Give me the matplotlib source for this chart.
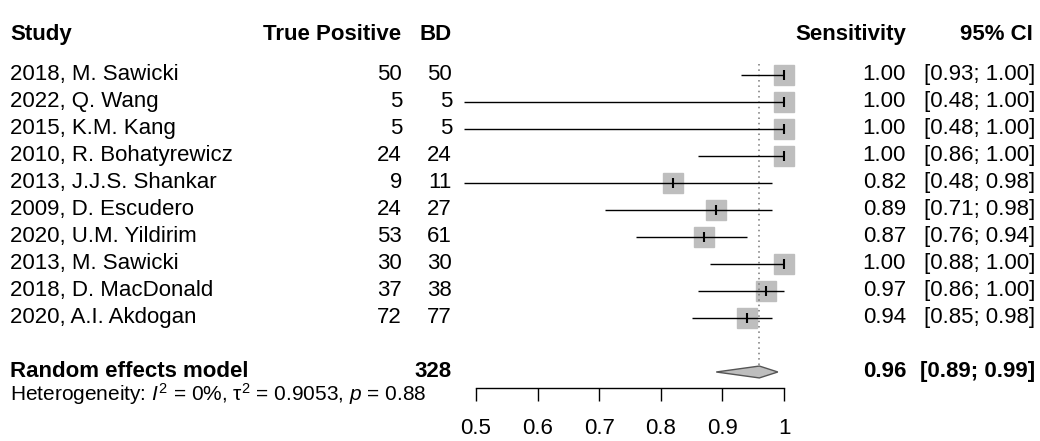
import matplotlib
matplotlib.use("Agg")
import matplotlib.pyplot as plt
import matplotlib.transforms as mtransforms
import numpy as np

plt.rcParams['font.family'] = ['Liberation Sans', 'DejaVu Sans']
plt.rcParams['mathtext.fontset'] = 'custom'
plt.rcParams['mathtext.rm'] = 'Liberation Sans'
plt.rcParams['mathtext.it'] = 'Liberation Sans:italic'
plt.rcParams['mathtext.bf'] = 'Liberation Sans:bold'

#------------------------------------data------------------------------------
studies = ["2018, M. Sawicki", "2022, Q. Wang", "2015, K.M. Kang", "2010, R. Bohatyrewicz",
           "2013, J.J.S. Shankar", "2009, D. Escudero", "2020, U.M. Yildirim",
           "2013, M. Sawicki", "2018, D. MacDonald", "2020, A.I. Akdogan"]
true_pos = [50, 5, 5, 24, 9, 24, 53, 30, 37, 72]
bd = [50, 5, 5, 24, 11, 27, 61, 30, 38, 77]
sens = [1.00, 1.00, 1.00, 1.00, 0.82, 0.89, 0.87, 1.00, 0.97, 0.94]
ci_lo = [0.93, 0.48, 0.48, 0.86, 0.48, 0.71, 0.76, 0.88, 0.86, 0.85]
ci_hi = [1.00, 1.00, 1.00, 1.00, 0.98, 0.98, 0.94, 1.00, 1.00, 0.98]

re_total = 328
re_est, re_lo, re_hi = 0.96, 0.89, 0.99
xticks = [0.5, 0.6, 0.7, 0.8, 0.9, 1.0]
xticklabels = ["0.5", "0.6", "0.7", "0.8", "0.9", "1"]

#------------------------------------figure------------------------------------
W, H = 1040, 441
fig = plt.figure(figsize=(W/100, H/100), dpi=100)
# axes: x from 0.5 (px 476) to 1 (px 784), bottom at px 388, top px 48
ax = fig.add_axes([476/W, (H-388)/H, 308/W, 340/H])
row_re = len(studies) + 1
ax.set_xlim(0.5, 1.0)
ax.set_ylim(11.593, -1.0)
for s in ["top", "left", "right"]:
    ax.spines[s].set_visible(False)
ax.spines["bottom"].set_linewidth(1.0)
ax.set_yticks([])
ax.set_xticks(xticks)
ax.set_xticklabels(xticklabels, fontsize=16)
ax.tick_params(axis="x", length=9.4, width=1.0, pad=12.5)
ax.patch.set_visible(False)

rows = np.arange(len(studies))

# reference line
ax.vlines(re_est, -0.41, row_re - 0.22, colors="#777777", linestyles=(0, (1, 2.5)), lw=1.1, clip_on=False)

# CIs, squares, point ticks
ax.hlines(rows, ci_lo, ci_hi, colors="black", lw=1.0, clip_on=False, zorder=2)
ax.plot(sens, rows, ls="none", marker="s", ms=15, mfc="#BEBEBE", mec="#BEBEBE", clip_on=False, zorder=1)
ax.plot(sens, rows, ls="none", marker="|", ms=7, mew=1.5, color="black", clip_on=False, zorder=3)

# diamond
h = 0.22
ax.fill([re_lo, re_est, re_hi, re_est], [row_re, row_re - h, row_re, row_re + h],
        facecolor="#BEBEBE", edgecolor="#555555", lw=1.0, clip_on=False)

#------------------------------------text columns------------------------------------
tr = mtransforms.blended_transform_factory(fig.transFigure, ax.transData)

def col(px, y, s, ha="left", bold=False):
    ax.text(px/W, y, s, transform=tr, ha=ha, va="center", fontsize=16,
            fontweight="bold" if bold else "normal", clip_on=False)

yh = -1.5
col(10, yh, "Study", bold=True)
col(401, yh, "True Positive", ha="right", bold=True)
col(452, yh, "BD", ha="right", bold=True)
col(906, yh, "Sensitivity", ha="right", bold=True)
col(1033, yh, "95% CI", ha="right", bold=True)

for i in rows:
    col(10, i, studies[i])
    col(402, i, str(true_pos[i]), ha="right")
    col(452, i, str(bd[i]), ha="right")
    col(906, i, "%.2f" % sens[i], ha="right")
    col(1035, i, "[%.2f; %.2f]" % (ci_lo[i], ci_hi[i]), ha="right")

col(10, row_re, "Random effects model", bold=True)
col(452, row_re, str(re_total), ha="right", bold=True)
col(906, row_re, "%.2f" % re_est, ha="right", bold=True)
col(1035, row_re, "[%.2f; %.2f]" % (re_lo, re_hi), ha="right", bold=True)
ax.text(10/W, row_re + 0.8,
        r"Heterogeneity: $\mathit{I}^2$ = 0%, $\mathrm{\tau}^2$ = 0.9053, $\mathit{p}$ = 0.88",
        transform=tr, ha="left", va="center", fontsize=15, clip_on=False)

fig.savefig("out.png", dpi=100)
